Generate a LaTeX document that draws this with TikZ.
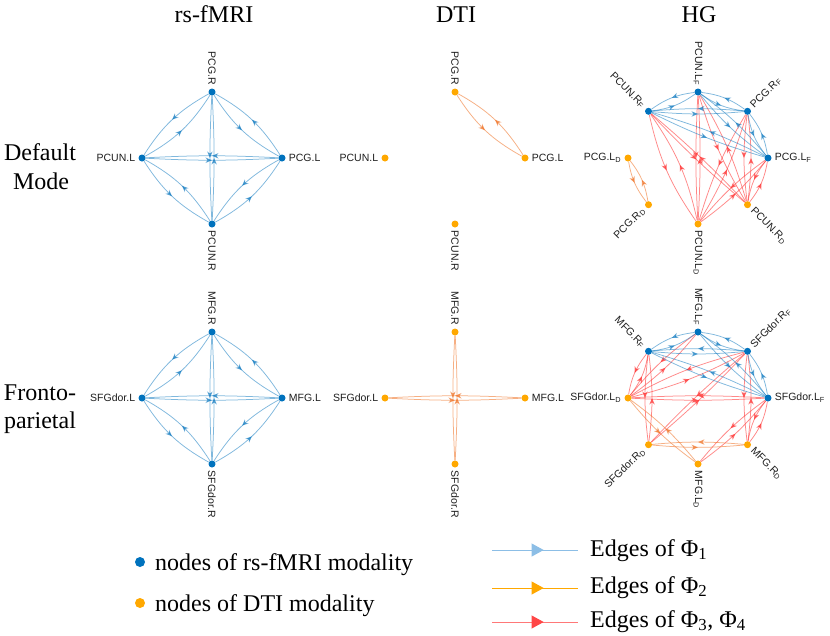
\documentclass[tikz,border=0pt]{standalone}
\usepackage{fontspec}
\setmainfont{Liberation Serif}
\newfontfamily\lsans{Liberation Sans}
\usetikzlibrary{arrows.meta,decorations.markings,backgrounds}
\definecolor{mblue}{RGB}{0,114,189}
\definecolor{mora}{RGB}{255,168,0}
\definecolor{eora}{RGB}{240,110,30}
\definecolor{ered}{RGB}{255,40,40}
\definecolor{lgblue}{RGB}{140,190,230}
\definecolor{lgredline}{RGB}{255,120,120}
\definecolor{lgred}{RGB}{255,70,70}
\definecolor{labgray}{RGB}{30,30,30}
\tikzset{
  midarrow/.style={postaction={decorate,decoration={markings,mark=at position 0.5 with {\arrow{Stealth[length=6.5pt,width=5.5pt,inset=2pt]}}}}},
  bedge/.style={draw=mblue,opacity=0.5,line width=0.75pt,midarrow},
  oedge/.style={draw=eora,opacity=0.55,line width=0.75pt,midarrow},
  redge/.style={draw=ered,opacity=0.55,line width=0.75pt,midarrow},
  fdot/.style={circle,fill=mblue,inner sep=0pt,minimum size=7pt},
  ddot/.style={circle,fill=mora,inner sep=0pt,minimum size=7pt},
  lab/.style={inner sep=1pt,text=labgray,font=\lsans\fontsize{10.5}{11}\selectfont},
  bigtext/.style={inner sep=0pt,font=\fontsize{24}{28}\selectfont},
  legdot/.style={circle,inner sep=0pt,minimum size=10pt},
  legarr/.style n args={2}{draw=#1,line width=0.8pt,postaction={decorate,decoration={markings,mark=at position 0.6 with {\arrow{Triangle[length=12pt,width=13pt,color=#2]}}}}}
}
\newcommand\biedge[4]{\draw[#1] (#2) to[bend right=#4] (#3); \draw[#1] (#3) to[bend right=#4] (#2);}
\newcommand\labN[2]{\node[lab,rotate=-90,anchor=east] (#1-l) at ([yshift=2pt]#1.north) {#2};}
\newcommand\labS[2]{\node[lab,rotate=-90,anchor=west] (#1-l) at ([yshift=-2pt]#1.south) {#2};}
\newcommand\labW[2]{\node[lab,anchor=east] (#1-l) at ([xshift=-2pt]#1.west) {#2};}
\newcommand\labE[2]{\node[lab,anchor=west] (#1-l) at ([xshift=2pt]#1.east) {#2};}
\newcommand\labNW[2]{\node[lab,rotate=-45,anchor=east] (#1-l) at ([shift={(-1.5pt,1.5pt)}]#1.north west) {#2};}
\newcommand\labNE[2]{\node[lab,rotate=45,anchor=west] (#1-l) at ([shift={(1.5pt,1.5pt)}]#1.north east) {#2};}
\newcommand\labSW[2]{\node[lab,rotate=45,anchor=east] (#1-l) at ([shift={(-1.5pt,-1.5pt)}]#1.south west) {#2};}
\newcommand\labSE[2]{\node[lab,rotate=-45,anchor=west] (#1-l) at ([shift={(1.5pt,-1.5pt)}]#1.south east) {#2};}
\newcommand\sub[1]{\textsubscript{#1}}
\begin{document}
\begin{tikzpicture}[x=1pt,y=1pt]
\begin{scope}[on background layer]
\fill[white] (0,0) rectangle (830,-635);
\end{scope}
\useasboundingbox (0,0) rectangle (830,-635);

% titles
\node[bigtext,anchor=base] (ttl1) at (214,-22) {rs-fMRI};
\node[bigtext,anchor=base] (ttl2) at (456,-22) {DTI};
\node[bigtext,anchor=base] (ttl3) at (699,-22) {HG};
\node[bigtext,anchor=base] (row1a) at (40,-160) {Default};
\node[bigtext,anchor=base] (row1b) at (41,-189) {Mode};
\node[bigtext,anchor=base] (row2a) at (40,-400) {Fronto-};
\node[bigtext,anchor=base] (row2b) at (40,-428) {parietal};

% rs-fMRI default
\node[fdot] (rdT) at (212,-92) {};
\node[fdot] (rdL) at (142,-158) {};
\node[fdot] (rdR) at (282,-158) {};
\node[fdot] (rdB) at (212,-224) {};
\labN{rdT}{PCG.R} \labW{rdL}{PCUN.L} \labE{rdR}{PCG.L} \labS{rdB}{PCUN.R}
% rs-fMRI fronto
\node[fdot] (rfT) at (212,-332) {};
\node[fdot] (rfL) at (142,-398) {};
\node[fdot] (rfR) at (282,-398) {};
\node[fdot] (rfB) at (212,-464) {};
\labN{rfT}{MFG.R} \labW{rfL}{SFGdor.L} \labE{rfR}{MFG.L} \labS{rfB}{SFGdor.R}
% DTI default
\node[ddot] (ddT) at (455,-92) {};
\node[ddot] (ddL) at (385,-158) {};
\node[ddot] (ddR) at (525,-158) {};
\node[ddot] (ddB) at (455,-224) {};
\labN{ddT}{PCG.R} \labW{ddL}{PCUN.L} \labE{ddR}{PCG.L} \labS{ddB}{PCUN.R}
% DTI fronto
\node[ddot] (dfT) at (455,-332) {};
\node[ddot] (dfL) at (385,-398) {};
\node[ddot] (dfR) at (525,-398) {};
\node[ddot] (dfB) at (455,-464) {};
\labN{dfT}{MFG.R} \labW{dfL}{SFGdor.L} \labE{dfR}{MFG.L} \labS{dfB}{SFGdor.R}
% HG default
\node[fdot] (hdN)  at (698,-92) {};
\node[fdot] (hdNE) at (747.5,-111.3) {};
\node[fdot] (hdE)  at (768,-158) {};
\node[ddot] (hdSE) at (747.5,-204.7) {};
\node[ddot] (hdS)  at (698,-224) {};
\node[ddot] (hdSW) at (648.5,-204.7) {};
\node[ddot] (hdW)  at (628,-158) {};
\node[fdot] (hdNW) at (648.5,-111.3) {};
\labN{hdN}{PCUN.L\sub{F}} \labNE{hdNE}{PCG.R\sub{F}} \labE{hdE}{PCG.L\sub{F}}
\labSE{hdSE}{PCUN.R\sub{D}} \labS{hdS}{PCUN.L\sub{D}} \labSW{hdSW}{PCG.R\sub{D}}
\labW{hdW}{PCG.L\sub{D}} \labNW{hdNW}{PCUN.R\sub{F}}
% HG fronto
\node[fdot] (hfN)  at (698,-332) {};
\node[fdot] (hfNE) at (747.5,-351.3) {};
\node[fdot] (hfE)  at (768,-398) {};
\node[ddot] (hfSE) at (747.5,-444.7) {};
\node[ddot] (hfS)  at (698,-464) {};
\node[ddot] (hfSW) at (648.5,-444.7) {};
\node[ddot] (hfW)  at (628,-398) {};
\node[fdot] (hfNW) at (648.5,-351.3) {};
\labN{hfN}{MFG.L\sub{F}} \labNE{hfNE}{SFGdor.R\sub{F}} \labE{hfE}{SFGdor.L\sub{F}}
\labSE{hfSE}{MFG.R\sub{D}} \labS{hfS}{MFG.L\sub{D}} \labSW{hfSW}{SFGdor.R\sub{D}}
\labW{hfW}{SFGdor.L\sub{D}} \labNW{hfNW}{MFG.R\sub{F}}

\begin{scope}[on background layer]
% rs-fMRI
\biedge{bedge}{rdT}{rdL}{14} \biedge{bedge}{rdL}{rdB}{14} \biedge{bedge}{rdB}{rdR}{14} \biedge{bedge}{rdR}{rdT}{14}
\biedge{bedge}{rdT}{rdB}{3} \biedge{bedge}{rdL}{rdR}{3}
\biedge{bedge}{rfT}{rfL}{14} \biedge{bedge}{rfL}{rfB}{14} \biedge{bedge}{rfB}{rfR}{14} \biedge{bedge}{rfR}{rfT}{14}
\biedge{bedge}{rfT}{rfB}{3} \biedge{bedge}{rfL}{rfR}{3}
% DTI
\biedge{oedge}{ddT}{ddR}{14}
\biedge{oedge}{dfT}{dfB}{3} \biedge{oedge}{dfL}{dfR}{3}
% HG default
\biedge{redge}{hdN}{hdS}{3} \biedge{redge}{hdN}{hdSE}{7}
\biedge{redge}{hdNW}{hdS}{11} \biedge{redge}{hdNW}{hdSE}{3}
\biedge{redge}{hdNE}{hdS}{7} \biedge{redge}{hdNE}{hdSE}{7}
\biedge{redge}{hdE}{hdS}{7} \biedge{redge}{hdE}{hdSE}{14}
\biedge{oedge}{hdW}{hdSW}{14}
\biedge{bedge}{hdN}{hdNW}{14} \biedge{bedge}{hdN}{hdNE}{14} \biedge{bedge}{hdNE}{hdE}{14}
\biedge{bedge}{hdNW}{hdNE}{5} \biedge{bedge}{hdN}{hdE}{7} \biedge{bedge}{hdNW}{hdE}{5}
% HG fronto
\biedge{redge}{hfNW}{hfW}{14} \biedge{redge}{hfNW}{hfSW}{7}
\biedge{redge}{hfN}{hfW}{7} \biedge{redge}{hfNE}{hfW}{7}
\biedge{redge}{hfE}{hfW}{3} \biedge{redge}{hfNE}{hfSW}{3}
\biedge{redge}{hfNE}{hfSE}{7} \biedge{redge}{hfE}{hfSE}{14}
\biedge{redge}{hfE}{hfS}{7}
\biedge{oedge}{hfW}{hfS}{7} \biedge{oedge}{hfSW}{hfSE}{5}
\biedge{bedge}{hfN}{hfNW}{14} \biedge{bedge}{hfN}{hfNE}{14} \biedge{bedge}{hfNE}{hfE}{14}
\biedge{bedge}{hfNW}{hfNE}{5} \biedge{bedge}{hfN}{hfE}{7} \biedge{bedge}{hfNW}{hfE}{5}
\end{scope}

% legend
\node[legdot,fill=mblue] (lgd1) at (140,-562) {};
\node[bigtext,anchor=base west] (lgt1) at (155,-570) {nodes of rs-fMRI modality};
\node[legdot,fill=mora] (lgd2) at (140,-603) {};
\node[bigtext,anchor=base west] (lgt2) at (155,-611) {nodes of DTI modality};
\coordinate (la1) at (492,-550); \coordinate (lb1) at (578,-550);
\coordinate (la2) at (492,-588); \coordinate (lb2) at (578,-588);
\coordinate (la3) at (492,-622); \coordinate (lb3) at (578,-622);
\draw[legarr={lgblue}{lgblue}] (la1) -- (lb1);
\draw[legarr={mora}{mora}] (la2) -- (lb2);
\draw[legarr={lgredline}{lgred}] (la3) -- (lb3);
\node[bigtext,anchor=base west] (lgt3) at (590,-556) {Edges of Φ\sub{1}};
\node[bigtext,anchor=base west] (lgt4) at (590,-593) {Edges of Φ\sub{2}};
\node[bigtext,anchor=base west] (lgt5) at (590,-627) {Edges of Φ\sub{3}, Φ\sub{4}};
\end{tikzpicture}
\end{document}
